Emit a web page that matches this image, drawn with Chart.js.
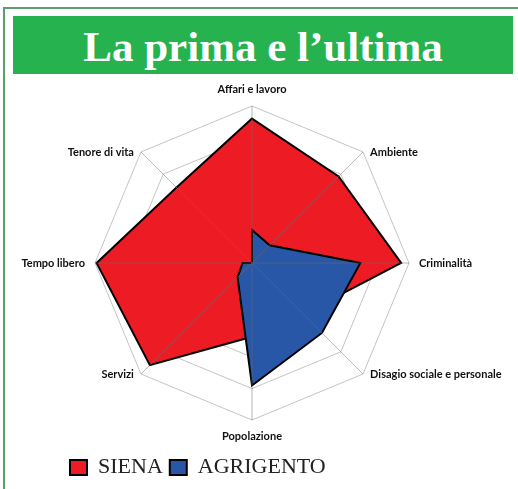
<!DOCTYPE html>
<html>
<head>
<meta charset="utf-8">
<script src="https://cdn.jsdelivr.net/npm/chart.js@4.4.1/dist/chart.umd.min.js"></script>
<style>
    body { margin: 0; background: #fff; }
    #page { position: relative; width: 518px; height: 489px; overflow: hidden; }
    #frame {
        position: absolute; left: 3px; top: 7px; right: -10px; bottom: -10px;
        border-left: 2px solid #5c9e6c; border-top: 2px solid #5c9e6c;
    }
    #title {
        position: absolute; left: 13px; top: 16px; width: 500px; height: 58px;
        background: #25b24f; color: #fff; text-align: center;
        font-family: "Liberation Serif", serif; font-weight: bold; font-size: 43px; line-height: 62px;
    }
    #chart { position: absolute; left: 0; top: 0; }
</style>
</head>
<body>
<div id="page">
    <div id="frame"></div>
    <div id="title">La prima e l’ultima</div>
    <canvas id="chart" width="518" height="489"></canvas>
</div>
<script>
    const categories = ['Affari e lavoro', 'Ambiente', 'Criminalità', 'Disagio sociale e personale',
        'Popolazione', 'Servizi', 'Tempo libero', 'Tenore di vita'];
    const sienaValues = [92, 78, 95, 46, 47, 92, 99, 68];
    const agrigentoValues = [21, 16, 69, 63, 78, 13, 6, 0];

    // spokes are drawn on top of the filled areas, like in the original
    const spokesOnTop = {
        id: 'spokesOnTop',
        afterDatasetsDraw(chart) {
            const r = chart.scales.r;
            const ctx = chart.ctx;
            ctx.save();
            ctx.strokeStyle = 'rgba(110,110,110,0.5)';
            ctx.lineWidth = 1;
            for (let i = 0; i < categories.length; i++) {
                const p = r.getPointPosition(i, r.drawingArea);
                ctx.beginPath();
                ctx.moveTo(r.xCenter, r.yCenter);
                ctx.lineTo(p.x, p.y);
                ctx.stroke();
            }
            ctx.restore();
        }
    };

    new Chart(document.getElementById('chart'), {
        type: 'radar',
        data: {
            labels: categories,
            datasets: [
                {
                    label: 'SIENA', data: sienaValues, order: 1,
                    backgroundColor: '#ed1c24', borderColor: '#000', borderWidth: 2,
                    fill: true, pointRadius: 0, tension: 0
                },
                {
                    label: 'AGRIGENTO', data: agrigentoValues, order: 0,
                    backgroundColor: '#2757a6', borderColor: '#000', borderWidth: 2,
                    fill: true, pointRadius: 0, tension: 0
                }
            ]
        },
        options: {
            responsive: false,
            animation: false,
            layout: { padding: { left: 63, right: 77, top: 106, bottom: 0.5 } },
            scales: {
                r: {
                    min: 0, max: 100,
                    // keep the polygon at full size, labels live outside the chart area
                    beforeFit: function (scale) { scale.setCenterPoint = function () {}; },
                    // side labels sit level with their vertex
                    afterFit: function (scale) {
                        (scale._pointLabelItems || []).forEach(function (item, i) {
                            if (item.textAlign === 'center') return;
                            const h = item.bottom - item.top;
                            const v = scale.getPointPosition(i, scale.drawingArea);
                            item.y = v.y - h / 2;
                            item.top = item.y;
                            item.bottom = item.y + h;
                        });
                    },
                    ticks: { display: false, stepSize: 20 },
                    grid: { color: '#c4c4c4', lineWidth: 1 },
                    angleLines: { display: false },
                    pointLabels: {
                        padding: 10,
                        color: '#111',
                        font: { family: 'Lato', size: 11, weight: 'bold' }
                    }
                }
            },
            plugins: {
                tooltip: { enabled: false },
                legend: {
                    position: 'bottom',
                    align: 'start',
                    title: { display: true, text: '', font: { size: 12, lineHeight: 1 }, padding: { top: 17.5, bottom: 0 } },
                    labels: {
                        sort: function (a, b) { return a.datasetIndex - b.datasetIndex; },
                        padding: 7,
                        boxWidth: 17,
                        boxHeight: 15,
                        color: '#222',
                        font: { family: 'Liberation Serif', size: 22 }
                    }
                }
            }
        },
        plugins: [spokesOnTop]
    });
</script>
</body>
</html>
